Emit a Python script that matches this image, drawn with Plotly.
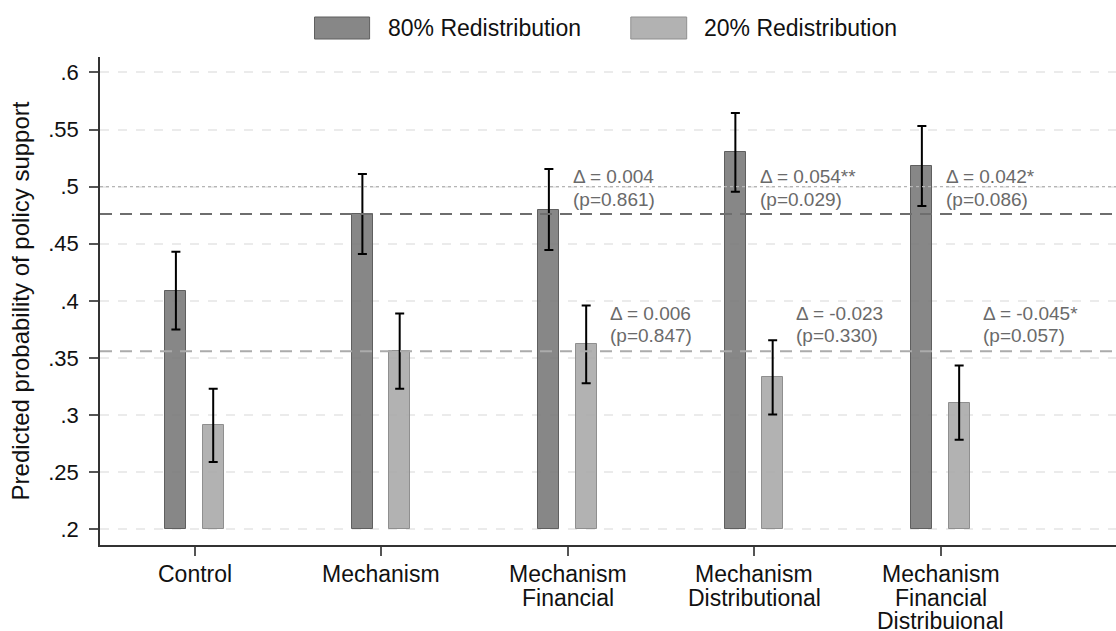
import plotly.graph_objects as go

# ---------------- data ----------------
categories = ["Control", "Mechanism", "Mechanism\nFinancial", "Mechanism\nDistributional",
              "Mechanism\nFinancial\nDistribuional"]
positions = [1, 2, 3, 4, 5]
support_80 = [0.409, 0.476, 0.480, 0.530, 0.518]
ci_80 = [0.034, 0.035, 0.0355, 0.0345, 0.035]
support_20 = [0.291, 0.356, 0.362, 0.333, 0.311]
ci_20 = [0.032, 0.033, 0.034, 0.0325, 0.0325]
delta_80 = ["Δ = 0.004", "Δ = 0.054**", "Δ = 0.042*"]
pval_80 = ["(p=0.861)", "(p=0.029)", "(p=0.086)"]
delta_20 = ["Δ = 0.006", "Δ = -0.023", "Δ = -0.045*"]
pval_20 = ["(p=0.847)", "(p=0.330)", "(p=0.057)"]
ytick_vals = [0.2, 0.25, 0.3, 0.35, 0.4, 0.45, 0.5, 0.55, 0.6]
ytick_text = [".2", ".25", ".3", ".35", ".4", ".45", ".5", ".55", ".6"]
series_names = ["80% Redistribution", "20% Redistribution"]
BASE = 0.2

FONT = "Liberation Sans, Arial, sans-serif"
DARK_FILL = "rgba(122,122,122,0.9)"
DARK_LINE = "#5f5f5f"
LIGHT_FILL = "rgba(170,170,170,0.9)"
LIGHT_LINE = "#8f8f8f"
OFF = 0.1
BW = 0.113

fig = go.Figure()
fig.add_trace(go.Bar(
    x=[p - OFF for p in positions], y=[v - BASE for v in support_80], base=BASE,
    width=BW, name=series_names[0], showlegend=False,
    marker=dict(color=DARK_FILL, line=dict(color=DARK_LINE, width=1)),
    error_y=dict(type="data", array=ci_80, symmetric=True, color="black", thickness=2, width=4.5),
))
fig.add_trace(go.Bar(
    x=[p + OFF for p in positions], y=[v - BASE for v in support_20], base=BASE,
    width=BW, name=series_names[1], showlegend=False,
    marker=dict(color=LIGHT_FILL, line=dict(color=LIGHT_LINE, width=1)),
    error_y=dict(type="data", array=ci_20, symmetric=True, color="black", thickness=2, width=4.5),
))

# reference lines (Mechanism levels) and 0.5
fig.add_shape(type="line", xref="paper", x0=0, x1=1, yref="y", y0=0.5, y1=0.5,
              line=dict(color="#b5b5b5", width=1.2, dash="dot"), layer="above")
fig.add_shape(type="line", xref="paper", x0=0, x1=1, yref="y", y0=support_80[1], y1=support_80[1],
              line=dict(color="#6e6e6e", width=2, dash="12px,8px"), layer="above")
fig.add_shape(type="line", xref="paper", x0=0, x1=1, yref="y", y0=support_20[1], y1=support_20[1],
              line=dict(color="#ababab", width=2, dash="12px,8px"), layer="above")

annotations = []
# delta annotations
for i, p in enumerate(positions[2:]):
    for txt, yy in ((delta_80[i], 0.5086), (pval_80[i], 0.4891)):
        annotations.append(dict(x=p + 0.02, y=yy, xref="x", yref="y", text=txt, showarrow=False,
                                xanchor="left", yanchor="middle",
                                font=dict(family=FONT, size=19, color="#6a6a6a")))
    for txt, yy in ((delta_20[i], 0.3893), (pval_20[i], 0.3701)):
        annotations.append(dict(x=p + 0.217, y=yy, xref="x", yref="y", text=txt, showarrow=False,
                                xanchor="left", yanchor="middle",
                                font=dict(family=FONT, size=19, color="#6a6a6a")))

# category labels (tight line spacing)
for p, cat in zip(positions, categories):
    for j, line in enumerate(cat.split("\n")):
        annotations.append(dict(x=p, y=0, xref="x", yref="paper", text=line, showarrow=False,
                                xanchor="center", yanchor="middle", yshift=-29 - 23.5 * j,
                                font=dict(family=FONT, size=23, color="#111")))

# legend (custom, large swatches)
W, H, L, T = 1116, 631, 100, 57
PW, PH = W - L, H - T - 86
def px_x(v):
    return (v - L) / PW
def px_y(v):
    return (T + PH - v) / PH

shapes_leg = [
    (314.5, 369.6, DARK_FILL, DARK_LINE, 386, series_names[0]),
    (630.8, 686.7, LIGHT_FILL, LIGHT_LINE, 702, series_names[1]),
]
for x0, x1, fc, lc, tx, name in shapes_leg:
    fig.add_shape(type="rect", xref="paper", yref="paper", x0=px_x(x0), x1=px_x(x1),
                  y0=px_y(39), y1=px_y(17), fillcolor=fc, line=dict(color=lc, width=1))
    annotations.append(dict(x=px_x(tx), y=px_y(28), xref="paper", yref="paper", text=name,
                            showarrow=False, xanchor="left", yanchor="middle",
                            font=dict(family=FONT, size=23, color="#111")))

fig.update_layout(
    width=W, height=H, autosize=False,
    margin=dict(l=L, r=0, t=T, b=86),
    paper_bgcolor="white", plot_bgcolor="white",
    barmode="overlay", bargap=0,
    font=dict(family=FONT, color="#111"),
    annotations=annotations,
    showlegend=False,
)
fig.update_xaxes(
    range=[0.493, 5.941], tickvals=positions, showticklabels=False,
    ticks="outside", ticklen=9, tickwidth=1.5, tickcolor="#555",
    showline=True, linecolor="#333", linewidth=1.5, showgrid=False, zeroline=False,
)
fig.update_yaxes(
    range=[0.1863, 0.6135], tickvals=ytick_vals, ticktext=ytick_text,
    ticks="outside", ticklen=9, tickwidth=1.5, tickcolor="#555",
    tickfont=dict(family=FONT, size=22, color="#111"), ticklabelstandoff=6,
    showline=True, linecolor="#333", linewidth=1.5,
    showgrid=True, gridcolor="#ebebeb", gridwidth=1.5, griddash="dash", zeroline=False,
    title=dict(text="Predicted probability of policy support", standoff=12,
               font=dict(family=FONT, size=24, color="#111")),
)

fig.write_html("out.html")
